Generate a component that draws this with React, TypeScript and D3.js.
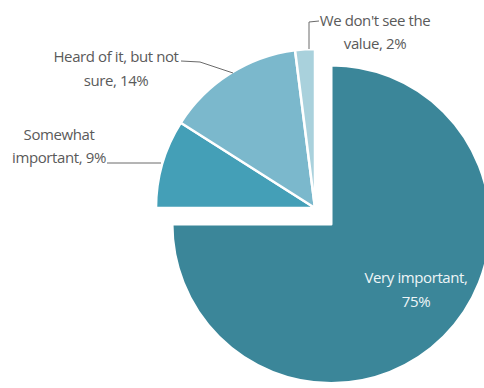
import React from "react";
import * as d3 from "d3";

const categories = ["Very important", "Somewhat important", "Heard of it, but not sure", "We don't see the value"];
const values = [75, 9, 14, 2];
const colors = ["#3b8699", "#449fb7", "#7bb8cc", "#a9d1dc"];

const W = 484;
const H = 388;
const CX = 315;
const CY = 208;
const R = 159;

export default function App() {
  const pie = d3.pie<number>().sort(null).value((d) => d)(values);
  const arc = d3.arc<d3.PieArcDatum<number>>().innerRadius(0).outerRadius(R);
  const explode = [23, 0, 0, 0];
  const font = "'Open Sans', Lato, sans-serif";
  return (
    <div style={{ position: "fixed", left: 0, top: 0 }}>
      <svg width={W} height={H} style={{ display: "block", background: "#fff" }}>
        <g transform={`translate(${CX},${CY})`}>
          {pie.map((p, i) => {
            const mid = (p.startAngle + p.endAngle) / 2;
            const dx = Math.sin(mid) * explode[i];
            const dy = -Math.cos(mid) * explode[i];
            return (
              <path
                key={i}
                d={arc(p) || ""}
                transform={`translate(${dx},${dy})`}
                fill={colors[i]}
                stroke="#fff"
                strokeWidth={2.5}
                strokeLinejoin="round"
              />
            );
          })}
        </g>
        <g fontFamily={font} fontSize={15} fill="#5a5a5a" letterSpacing={-0.4}>
          <text x={116} y={62} textAnchor="middle">Heard of it, but not</text>
          <text x={116} y={86} textAnchor="middle">sure, 14%</text>
          <text x={59} y={140} textAnchor="middle">Somewhat</text>
          <text x={59} y={163} textAnchor="middle">important, 9%</text>
          <text x={375} y={26} textAnchor="middle">We don't see the</text>
          <text x={375} y={49} textAnchor="middle">value, 2%</text>
        </g>
        <g fontFamily={font} fontSize={15} fill="#eef5f7" letterSpacing={-0.4}>
          <text x={416} y={283} textAnchor="middle">Very important,</text>
          <text x={416} y={307} textAnchor="middle">75%</text>
        </g>
        <g fill="none" stroke="#6a6a6a" strokeWidth={1}>
          <polyline points="181,61 200,62 233,73" />
          <polyline points="107,163 161,163" />
          <polyline points="319,21 309,22 309,49" />
        </g>
      </svg>
    </div>
  );
}
